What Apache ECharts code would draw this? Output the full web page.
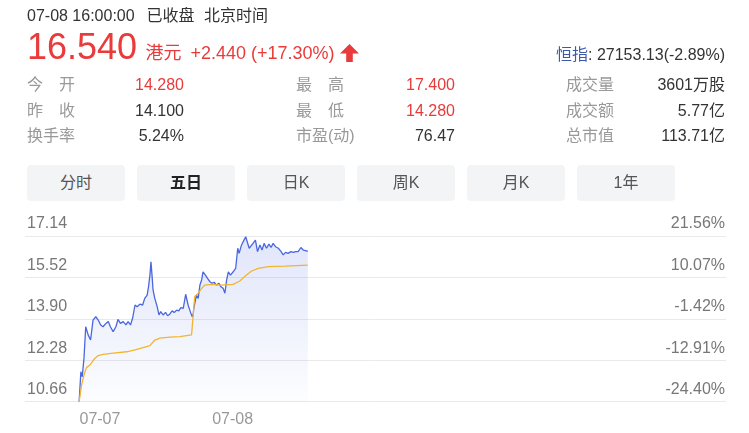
<!DOCTYPE html>
<html><head><meta charset="utf-8">
<script src="https://cdn.jsdelivr.net/npm/echarts@6/dist/echarts.min.js"></script>
<style>
body{margin:0;background:#fff;font-family:"Liberation Sans","Noto Sans CJK SC",sans-serif;}
#wrap{position:relative;width:749px;height:433px;overflow:hidden;}
#chart{position:absolute;left:0;top:0;width:749px;height:433px;}
.t{position:absolute;white-space:nowrap;font-size:16px;line-height:20px;color:#333;}
.lab{color:#999;}
.red{color:#e93b3b;}
.r{text-align:right;}
.tab{position:absolute;top:165px;width:98px;height:36px;line-height:36px;text-align:center;background:#f3f4f6;border-radius:4px;font-size:16px;color:#555;}
.tab.on{color:#222;font-weight:bold;}
</style></head>
<body>
<div id="wrap">
<div id="chart"></div>
<span class="t" style="left:27px;top:6px;">07-08 16:00:00</span>
<span class="t" style="left:146.5px;top:6px;">已收盘</span>
<span class="t" style="left:204px;top:6px;">北京时间</span>
<span class="t red" style="left:27px;top:29px;font-size:36px;line-height:36px;">16.540</span>
<span class="t red" style="left:145.5px;top:43px;font-size:18px;">港元</span>
<span class="t red" style="left:190.5px;top:43px;font-size:18px;">+2.440 (+17.30%)</span>
<svg style="position:absolute;left:340px;top:44px;" width="19" height="18" viewBox="0 0 19 18"><polygon points="9.5,0 19,9.5 12.8,9.5 12.8,18 6.2,18 6.2,9.5 0,9.5" fill="#e93b3b"/></svg>
<span class="t r" style="right:24px;top:44.5px;"><span style="color:#3d5aa8;">恒指</span>: 27153.13(-2.89%)</span>

<span class="t lab" style="left:27px;top:75px;">今　开</span>
<span class="t lab" style="left:27px;top:100.5px;">昨　收</span>
<span class="t lab" style="left:27px;top:126px;">换手率</span>
<span class="t r red" style="right:565px;top:75px;">14.280</span>
<span class="t r" style="right:565px;top:100.5px;">14.100</span>
<span class="t r" style="right:565px;top:126px;">5.24%</span>

<span class="t lab" style="left:296px;top:75px;">最　高</span>
<span class="t lab" style="left:296px;top:100.5px;">最　低</span>
<span class="t lab" style="left:296px;top:126px;">市盈(动)</span>
<span class="t r red" style="right:294px;top:75px;">17.400</span>
<span class="t r red" style="right:294px;top:100.5px;">14.280</span>
<span class="t r" style="right:294px;top:126px;">76.47</span>

<span class="t lab" style="left:566px;top:75px;">成交量</span>
<span class="t lab" style="left:566px;top:100.5px;">成交额</span>
<span class="t lab" style="left:566px;top:126px;">总市值</span>
<span class="t r" style="right:24px;top:75px;">3601万股</span>
<span class="t r" style="right:24px;top:100.5px;">5.77亿</span>
<span class="t r" style="right:24px;top:126px;">113.71亿</span>

<div class="tab" style="left:27px;">分时</div>
<div class="tab on" style="left:137px;">五日</div>
<div class="tab" style="left:247px;">日K</div>
<div class="tab" style="left:357px;">周K</div>
<div class="tab" style="left:467px;">月K</div>
<div class="tab" style="left:577px;">1年</div>
</div>
<script>
// ---- data ----
const dayLabels = ['07-07', '07-08', '', '', ''];
const priceTicks = ['10.66', '12.28', '13.90', '15.52', '17.14'];
const pctTicks = ['-24.40%', '-12.91%', '-1.42%', '10.07%', '21.56%'];
const minutesPerDay = 330;

const day1Minutes = [0,5,9,14,19,26,33,40,48,55,62,69,77,84,90,98,106,112,119,127,135,141,148,154,161,167,175,183,189,196,200,204,207,210,213,218,225,230,235,242,249,255,261,268,274,281,287,293,300,307,314,321,326,329];
const day1Prices = [10.66,11.83,11.63,12.37,13.59,13.27,13.07,13.85,13.98,13.85,13.66,13.59,13.72,13.79,13.59,13.40,13.59,13.88,13.72,13.79,13.66,13.79,13.66,13.92,14.44,14.37,14.47,14.44,14.70,14.83,15.16,15.61,16.13,15.61,15.03,14.70,14.37,14.05,14.18,14.05,14.15,14.02,14.08,14.21,14.15,14.24,14.21,14.34,14.31,14.86,14.44,14.15,13.98,14.10];

const day2Minutes = [0,8,13,18,23,27,34,40,47,53,59,66,73,78,85,90,95,100,106,114,121,127,131,138,145,150,155,160,165,171,178,184,191,197,203,210,217,223,229,236,244,251,258,265,272,280,287,294,301,309,316,323,329];
const day2Prices = [14.28,14.83,14.70,15.22,15.42,15.74,15.61,15.48,15.35,15.29,15.33,15.22,15.29,15.16,15.09,14.90,15.42,15.74,15.61,15.74,15.87,16.66,16.46,16.79,16.98,17.11,17.05,16.66,16.59,16.85,16.98,16.53,16.79,16.59,16.85,16.66,16.82,16.69,16.85,16.72,16.66,16.55,16.40,16.50,16.46,16.53,16.50,16.53,16.53,16.69,16.59,16.57,16.54];

const day1AvgMinutes = [0,7,14,21,31,45,55,69,98,137,161,184,204,218,233,261,290,324,329];
const day1Avg = [10.66,11.31,11.70,11.99,12.09,12.35,12.46,12.51,12.56,12.61,12.68,12.77,12.85,13.07,13.14,13.18,13.20,13.27,13.28];

const day2AvgMinutes = [0,3,13,23,32,52,80,114,133,152,167,186,215,263,329];
const day2Avg = [14.28,14.77,14.90,15.09,15.22,15.25,15.22,15.25,15.38,15.61,15.77,15.87,15.94,15.96,16.00];

// ---- build ----
function pairs(dayIndex, mins, vals) {
  return mins.map((m, i) => [dayIndex * minutesPerDay + m, vals[i]]);
}
const priceData = pairs(0, day1Minutes, day1Prices).concat(pairs(1, day2Minutes, day2Prices));
const avgData = pairs(0, day1AvgMinutes, day1Avg).concat(pairs(1, day2AvgMinutes, day2Avg));

const FF = '"Liberation Sans", "Noto Sans CJK SC", sans-serif';
const chart = echarts.init(document.getElementById('chart'));
chart.setOption({
  animation: false,
  grid: [
    {left: 25, right: 23, top: 236, bottom: 31.4, outerBoundsMode: 'none'},
    {left: 33.6, width: 663.5, top: 236, bottom: 31.4, outerBoundsMode: 'none'}
  ],
  xAxis: [
    {type: 'value', gridIndex: 0, min: -156, max: 1864, show: false},
    {type: 'category', gridIndex: 1, data: dayLabels,
      axisLine: {show: false}, axisTick: {show: false}, splitLine: {show: false},
      axisLabel: {interval: 0, color: '#999', fontSize: 16, fontFamily: FF, margin: 10}}
  ],
  yAxis: [
    {type: 'value', gridIndex: 0, min: 10.66, max: 17.14, show: false},
    {type: 'category', gridIndex: 0, position: 'left', data: priceTicks, boundaryGap: false,
      axisLine: {show: false}, axisTick: {show: false},
      splitLine: {show: true, lineStyle: {color: '#e9e9e9', width: 1}},
      axisLabel: {inside: true, margin: 2, interval: 0, color: '#777', fontSize: 16, fontFamily: FF,
        verticalAlign: 'bottom', padding: [0, 0, 4, 0]}},
    {type: 'category', gridIndex: 0, position: 'right', data: pctTicks, boundaryGap: false,
      axisLine: {show: false}, axisTick: {show: false}, splitLine: {show: false},
      axisLabel: {inside: true, margin: 1, interval: 0, color: '#777', fontSize: 16, fontFamily: FF,
        verticalAlign: 'bottom', padding: [0, 0, 4, 0]}},
    {type: 'value', gridIndex: 1, show: false}
  ],
  series: [
    {type: 'line', xAxisIndex: 0, yAxisIndex: 0, data: priceData, showSymbol: false, silent: true,
      lineStyle: {color: '#4a67e0', width: 1.3}, itemStyle: {color: '#4a67e0'},
      areaStyle: {origin: 'start', color: new echarts.graphic.LinearGradient(0, 0, 0, 1, [
        {offset: 0, color: 'rgba(74,103,224,0.24)'},
        {offset: 1, color: 'rgba(74,103,224,0.02)'}])},
      z: 3},
    {type: 'line', xAxisIndex: 0, yAxisIndex: 0, data: avgData, showSymbol: false, silent: true,
      lineStyle: {color: '#f2b530', width: 1.3}, itemStyle: {color: '#f2b530'}, z: 4}
  ]
});
</script>
</body></html>
